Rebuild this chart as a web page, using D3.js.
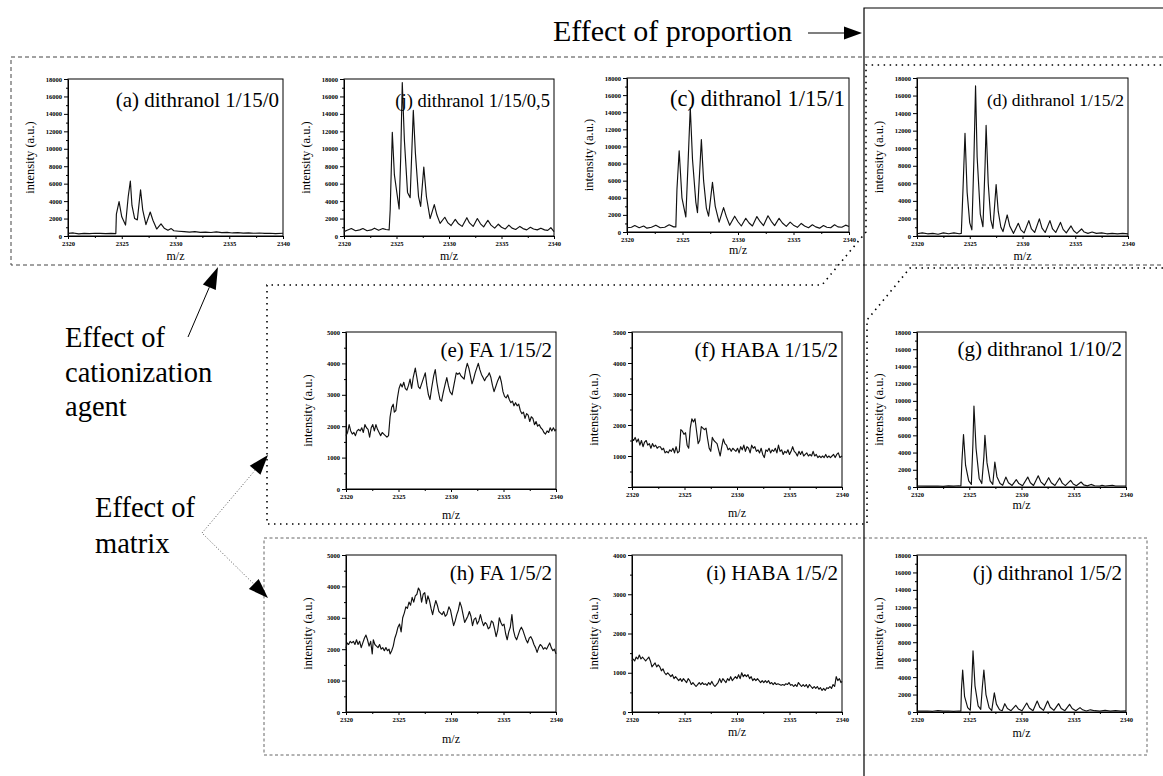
<!DOCTYPE html>
<html>
<head>
<meta charset="utf-8">
<script src="https://cdn.jsdelivr.net/npm/d3@7"></script>
<style>
  body { margin: 0; background: #fff; }
  svg text { font-family: "Liberation Serif", "Times New Roman", serif; fill: #000; }
  .tk text { font-size: 6.5px; font-weight: bold; }
  .tk path, .tk line, .mn line { stroke: #000; }
</style>
</head>
<body>
<svg id="canvas" width="1163" height="776"></svg>
<script>
(function() {

// tick labels
const mzTicks = [2320, 2325, 2330, 2335, 2340];
const mzMinor = [2322.5, 2327.5, 2332.5, 2337.5];
const ticks18k = [0, 2000, 4000, 6000, 8000, 10000, 12000, 14000, 16000, 18000];
const ticks5k = [0, 1000, 2000, 3000, 4000, 5000];
const ticks4k = [0, 1000, 2000, 3000, 4000];

const panelTitles = ["(a) dithranol 1/15/0", "(j) dithranol 1/15/0,5", "(c) dithranol 1/15/1",
  "(d) dithranol 1/15/2", "(e) FA 1/15/2", "(f) HABA 1/15/2", "(g) dithranol 1/10/2",
  "(h) FA 1/5/2", "(i) HABA 1/5/2", "(j) dithranol 1/5/2"];

// spectra: [m/z, intensity]
const specA = [[2320,300],[2320.5,350],[2321,250],[2321.5,300],[2322,280],[2322.5,320],[2323,300],[2323.5,280],[2324,300],[2324.45,280],
  [2324.5,2500],[2324.75,3950],[2325.0,2200],[2325.35,1250],[2325.6,4500],[2325.8,6300],[2325.95,3500],[2326.2,2000],[2326.45,1850],
  [2326.75,5300],[2326.95,3000],[2327.25,1300],[2327.65,2750],[2327.9,1800],[2328.25,800],[2328.65,1400],[2328.95,900],[2329.3,650],
  [2329.6,850],[2329.85,600],[2330.3,550],[2330.8,500],[2331.3,450],[2331.8,500],[2332.3,420],[2332.8,450],[2333.3,400],[2333.8,480],
  [2334.3,380],[2334.8,420],[2335.3,350],[2335.8,380],[2336.3,330],[2336.8,360],[2337.3,320],[2337.8,340],[2338.3,300],[2338.8,320],
  [2339.3,280],[2340,320]];

const specJ05 = [[2320,500],[2320.3,650],[2320.7,850],[2321.1,600],[2321.5,700],[2321.8,850],[2322.2,600],[2322.6,700],[2322.9,900],
  [2323.3,650],[2323.7,850],[2324.0,750],[2324.3,700],[2324.4,3000],[2324.6,11900],[2324.8,7000],[2325.25,3100],[2325.4,9000],
  [2325.55,17600],[2325.75,11000],[2326.05,5000],[2326.3,4400],[2326.6,14400],[2326.8,9500],[2327.1,4500],[2327.3,3400],[2327.6,7900],
  [2327.85,4500],[2328.2,2000],[2328.6,3600],[2328.85,2400],[2329.15,1450],[2329.6,2150],[2329.9,1500],[2330.2,1200],[2330.6,1900],
  [2330.9,1400],[2331.25,1100],[2331.7,2100],[2331.95,1500],[2332.3,1100],[2332.7,2000],[2333.0,1400],[2333.3,1050],[2333.7,1800],
  [2334.0,1250],[2334.35,900],[2334.7,1350],[2335.0,1000],[2335.35,800],[2335.7,1250],[2336.0,900],[2336.35,750],[2336.75,1100],
  [2337.05,850],[2337.4,700],[2337.75,1000],[2338.05,800],[2338.4,700],[2338.75,900],[2339.1,700],[2339.4,650],[2339.7,950],[2340,500]];

const specC = [[2320,500],[2320.4,550],[2320.7,750],[2321.1,500],[2321.5,700],[2321.8,450],[2322.2,550],[2322.6,800],[2323.0,500],
  [2323.4,550],[2323.8,850],[2324.2,600],[2324.4,600],[2324.5,5000],[2324.7,9500],[2324.95,4000],[2325.3,1750],[2325.5,8000],
  [2325.7,14550],[2325.9,8500],[2326.2,3500],[2326.35,2250],[2326.7,10800],[2326.9,6000],[2327.15,2800],[2327.35,1850],[2327.7,5800],
  [2327.95,3000],[2328.3,1150],[2328.7,2850],[2328.95,1800],[2329.25,780],[2329.7,1850],[2330.0,1200],[2330.3,700],[2330.7,1600],
  [2331.0,1050],[2331.3,700],[2331.7,1800],[2332.0,1200],[2332.3,750],[2332.7,1900],[2333.0,1250],[2333.3,750],[2333.7,1600],
  [2334.0,1050],[2334.35,650],[2334.7,1150],[2335.0,800],[2335.35,550],[2335.7,1000],[2336.0,700],[2336.35,500],[2336.7,850],
  [2337.0,600],[2337.35,450],[2337.7,750],[2338.0,550],[2338.35,500],[2338.7,850],[2339.0,600],[2339.35,550],[2339.7,800],[2340,650]];

const specD = [[2320,250],[2320.5,350],[2321,250],[2321.5,300],[2322,200],[2322.5,350],[2323,250],[2323.5,350],[2324,250],[2324.2,300],
  [2324.35,5000],[2324.55,11700],[2324.75,5000],[2325.0,1500],[2325.2,700],[2325.4,9000],[2325.55,17100],[2325.7,9000],[2326.0,2500],
  [2326.25,1050],[2326.45,8000],[2326.55,12600],[2326.75,6000],[2327.0,1800],[2327.2,850],[2327.5,5850],[2327.7,2800],[2327.95,1000],
  [2328.15,500],[2328.55,2400],[2328.8,1100],[2329.15,300],[2329.6,1450],[2329.85,700],[2330.15,350],[2330.6,1750],[2330.85,800],
  [2331.15,400],[2331.6,1950],[2331.85,900],[2332.15,400],[2332.6,1750],[2332.85,800],[2333.15,400],[2333.6,1550],[2333.85,750],
  [2334.15,350],[2334.6,1150],[2334.85,600],[2335.15,300],[2335.6,800],[2335.85,450],[2336.2,300],[2336.6,450],[2337.0,300],
  [2337.5,350],[2338.0,250],[2338.5,300],[2339.0,250],[2339.5,300],[2340,250]];

const specE = [[2320,1700],[2320.15,1800],[2320.3,2050],[2320.45,1850],[2320.6,1750],[2320.75,1800],[2320.9,1700],[2321.05,1850],
  [2321.2,1900],[2321.35,1850],[2321.5,1950],[2321.65,1800],[2321.8,2050],[2321.95,1950],[2322.1,1900],[2322.25,1650],[2322.4,1950],
  [2322.55,2050],[2322.7,1850],[2322.85,2050],[2323.0,1900],[2323.15,1800],[2323.3,1700],[2323.45,1800],[2323.6,1750],[2323.75,1700],
  [2323.9,1650],[2324.05,1700],[2324.2,2300],[2324.35,2600],[2324.5,2700],[2324.6,2450],[2324.75,2500],[2324.9,2900],[2325.05,3200],
  [2325.2,3350],[2325.35,3250],[2325.5,3400],[2325.65,3200],[2325.8,3150],[2325.95,3300],[2326.1,3500],[2326.25,3200],[2326.4,3550],
  [2326.6,3850],[2326.75,3550],[2326.9,3250],[2327.05,3200],[2327.2,3350],[2327.35,3500],[2327.55,3700],[2327.7,3300],[2327.85,3000],
  [2328.0,2850],[2328.15,3200],[2328.35,3600],[2328.5,3800],[2328.65,3400],[2328.8,3100],[2328.95,2850],[2329.1,2800],[2329.25,3050],
  [2329.45,3350],[2329.6,3550],[2329.75,3300],[2329.9,3100],[2330.1,3000],[2330.3,3350],[2330.5,3700],[2330.65,3650],[2330.8,3700],
  [2330.95,3600],[2331.1,3550],[2331.25,3500],[2331.4,3800],[2331.55,4000],[2331.7,3850],[2331.85,3600],[2332.0,3350],[2332.15,3500],
  [2332.3,3700],[2332.45,3850],[2332.6,4000],[2332.75,3800],[2332.9,3650],[2333.05,3550],[2333.2,3450],[2333.35,3550],[2333.5,3600],
  [2333.65,3700],[2333.8,3550],[2333.95,3300],[2334.1,3100],[2334.25,3250],[2334.45,3450],[2334.65,3600],[2334.8,3400],[2334.95,3100],
  [2335.1,2950],[2335.25,2900],[2335.4,3000],[2335.55,2850],[2335.7,2750],[2335.85,2800],[2336.0,2650],[2336.15,2750],[2336.3,2650],
  [2336.45,2700],[2336.6,2500],[2336.75,2400],[2336.9,2450],[2337.05,2250],[2337.2,2400],[2337.35,2350],[2337.5,2150],[2337.65,2300],
  [2337.8,2250],[2337.95,2050],[2338.1,2150],[2338.25,2000],[2338.4,2050],[2338.55,1950],[2338.7,1900],[2338.85,1800],[2339.0,1750],
  [2339.15,1850],[2339.3,1800],[2339.45,1950],[2339.6,1850],[2339.75,1950],[2339.9,1850],[2340,1900]];

const specF = [[2320,1550],[2320.15,1500],[2320.3,1600],[2320.45,1450],[2320.6,1550],[2320.75,1350],[2320.9,1500],[2321.05,1300],
  [2321.2,1450],[2321.35,1500],[2321.5,1350],[2321.65,1400],[2321.8,1250],[2321.95,1400],[2322.1,1300],[2322.25,1350],[2322.4,1250],
  [2322.55,1300],[2322.7,1300],[2322.85,1200],[2323.0,1250],[2323.15,1100],[2323.3,1150],[2323.45,1100],[2323.6,1200],[2323.75,1150],
  [2323.9,1250],[2324.05,1100],[2324.2,1300],[2324.35,1100],[2324.5,1150],[2324.65,1850],[2324.8,1800],[2324.95,1700],[2325.1,1750],
  [2325.25,1350],[2325.4,1250],[2325.55,1900],[2325.7,2200],[2325.85,2100],[2326.0,2200],[2326.15,1800],[2326.3,1400],[2326.45,1500],
  [2326.6,1950],[2326.75,1900],[2326.9,1850],[2327.05,1900],[2327.2,1550],[2327.35,1250],[2327.5,1150],[2327.65,1600],[2327.8,1500],
  [2327.95,1450],[2328.1,1400],[2328.25,1200],[2328.4,1000],[2328.55,1300],[2328.7,1550],[2328.85,1400],[2329.0,1350],[2329.15,1200],
  [2329.3,1250],[2329.45,1150],[2329.6,1250],[2329.75,1200],[2329.9,1150],[2330.05,1250],[2330.2,1100],[2330.35,1300],[2330.5,1200],
  [2330.65,1350],[2330.8,1150],[2330.95,1300],[2331.1,1250],[2331.25,1100],[2331.4,1350],[2331.55,1250],[2331.7,1300],[2331.85,1150],
  [2332.0,1200],[2332.15,1100],[2332.3,1250],[2332.45,1050],[2332.6,950],[2332.75,1200],[2332.9,1150],[2333.05,1250],[2333.2,1100],
  [2333.35,1200],[2333.5,1150],[2333.65,1250],[2333.8,1100],[2333.95,1350],[2334.1,1150],[2334.25,1200],[2334.4,1050],[2334.55,1150],
  [2334.7,1100],[2334.85,1200],[2335.0,1050],[2335.15,1150],[2335.3,1300],[2335.45,1150],[2335.6,1100],[2335.75,1000],[2335.9,1150],
  [2336.05,1050],[2336.2,1150],[2336.35,1000],[2336.5,1050],[2336.65,1100],[2336.8,1000],[2336.95,1050],[2337.1,1000],[2337.25,1150],
  [2337.4,1000],[2337.55,1050],[2337.7,950],[2337.85,1000],[2338.0,950],[2338.15,1000],[2338.3,950],[2338.45,1050],[2338.6,950],
  [2338.75,1000],[2338.9,950],[2339.05,1000],[2339.2,1050],[2339.35,950],[2339.5,1050],[2339.65,1100],[2339.8,950],[2340,1000]];

const specG = [[2320,120],[2321,100],[2322,120],[2322.5,80],[2323,130],[2323.5,100],[2324,150],[2324.2,120],[2324.3,3000],
  [2324.45,6100],[2324.65,2500],[2324.95,700],[2325.2,300],[2325.35,5000],[2325.45,9400],[2325.65,4500],[2325.95,1000],[2326.2,400],
  [2326.4,3500],[2326.5,6000],[2326.7,2800],[2327.0,700],[2327.25,300],[2327.45,2900],[2327.65,1200],[2327.95,400],[2328.2,200],
  [2328.5,1150],[2328.75,500],[2329.1,180],[2329.5,850],[2329.75,400],[2330.1,150],[2330.6,1150],[2330.85,500],[2331.15,180],
  [2331.6,1300],[2331.85,600],[2332.2,200],[2332.6,1080],[2332.85,500],[2333.2,180],[2333.65,1050],[2333.9,450],[2334.2,160],
  [2334.7,770],[2334.95,350],[2335.25,150],[2335.7,580],[2335.95,250],[2336.3,130],[2336.65,300],[2337.0,150],[2337.5,120],
  [2337.7,200],[2338.0,120],[2338.7,200],[2339,120],[2340,120]];

const specH = [[2320,2030],[2320.1,2200],[2320.25,2150],[2320.4,2250],[2320.55,2200],[2320.7,2250],[2320.85,2150],[2321.0,2300],
  [2321.15,2150],[2321.3,2250],[2321.45,2050],[2321.6,2200],[2321.75,2350],[2321.9,2450],[2322.05,2300],[2322.2,2100],[2322.35,2250],
  [2322.5,1850],[2322.6,2300],[2322.75,2150],[2322.9,2100],[2323.05,2050],[2323.2,2150],[2323.35,2000],[2323.5,2050],[2323.65,1950],
  [2323.8,2050],[2323.95,1950],[2324.1,2000],[2324.2,1850],[2324.35,1950],[2324.5,2100],[2324.65,2350],[2324.8,2500],[2324.95,2700],
  [2325.1,2800],[2325.25,2550],[2325.4,3000],[2325.55,3150],[2325.7,3350],[2325.85,3300],[2326.0,3500],[2326.15,3400],[2326.3,3650],
  [2326.45,3500],[2326.6,3700],[2326.75,3750],[2326.9,3950],[2327.05,3850],[2327.2,3500],[2327.35,3750],[2327.5,3800],[2327.65,3450],
  [2327.8,3700],[2327.95,3550],[2328.1,3300],[2328.25,3100],[2328.4,3350],[2328.55,3550],[2328.7,3400],[2328.85,3200],[2329.0,3150],
  [2329.15,3100],[2329.3,3200],[2329.45,3050],[2329.6,3100],[2329.8,3350],[2329.95,3250],[2330.1,3000],[2330.25,2750],[2330.4,2900],
  [2330.55,3100],[2330.7,3250],[2330.85,3500],[2331.0,3350],[2331.15,3100],[2331.3,2850],[2331.45,2950],[2331.6,3050],[2331.75,3200],
  [2331.9,3050],[2332.05,2750],[2332.2,2950],[2332.35,3000],[2332.5,2800],[2332.65,2900],[2332.8,3100],[2332.95,2900],[2333.1,2750],
  [2333.25,2850],[2333.4,2800],[2333.55,2650],[2333.7,2700],[2333.85,2900],[2334.0,2850],[2334.15,2650],[2334.3,2400],[2334.45,2600],
  [2334.6,3000],[2334.75,2850],[2334.9,2750],[2335.05,2800],[2335.2,2500],[2335.35,2300],[2335.5,2550],[2335.65,2700],[2335.8,3100],
  [2335.95,2600],[2336.1,2400],[2336.25,2300],[2336.4,2450],[2336.55,2600],[2336.7,2700],[2336.85,2600],[2337.0,2450],[2337.15,2300],
  [2337.3,2200],[2337.45,2350],[2337.6,2400],[2337.75,2300],[2337.9,2150],[2338.05,2050],[2338.2,1900],[2338.35,2050],[2338.5,2150],
  [2338.65,2100],[2338.8,2000],[2338.95,2050],[2339.1,2000],[2339.25,2100],[2339.4,2200],[2339.55,2050],[2339.7,1950],[2339.85,2000],
  [2340,1850]];

const specI = [[2320,1300],[2320.1,1350],[2320.25,1300],[2320.4,1400],[2320.55,1350],[2320.7,1450],[2320.85,1350],[2321.0,1400],
  [2321.15,1350],[2321.3,1300],[2321.45,1350],[2321.6,1400],[2321.75,1300],[2321.9,1150],[2322.05,1200],[2322.2,1250],[2322.35,1150],
  [2322.5,1200],[2322.65,1150],[2322.8,1050],[2322.95,1100],[2323.1,1000],[2323.25,950],[2323.4,1000],[2323.55,950],[2323.7,900],
  [2323.85,950],[2324.0,850],[2324.15,900],[2324.3,850],[2324.45,800],[2324.6,850],[2324.75,780],[2324.9,850],[2325.05,800],
  [2325.2,750],[2325.35,850],[2325.5,800],[2325.65,700],[2325.8,750],[2325.95,700],[2326.1,650],[2326.25,700],[2326.4,750],
  [2326.55,700],[2326.7,750],[2326.85,700],[2327.0,720],[2327.15,680],[2327.3,750],[2327.45,700],[2327.6,780],[2327.75,700],
  [2327.9,650],[2328.05,700],[2328.2,750],[2328.35,850],[2328.5,750],[2328.65,850],[2328.8,800],[2328.95,750],[2329.1,850],
  [2329.25,800],[2329.4,900],[2329.55,800],[2329.7,850],[2329.85,900],[2330.0,850],[2330.15,950],[2330.3,850],[2330.45,1000],
  [2330.6,900],[2330.75,950],[2330.9,900],[2331.05,950],[2331.2,850],[2331.35,900],[2331.5,800],[2331.65,850],[2331.8,800],
  [2331.95,850],[2332.1,800],[2332.25,750],[2332.4,800],[2332.55,750],[2332.7,800],[2332.85,750],[2333.0,800],[2333.15,720],
  [2333.3,750],[2333.45,700],[2333.6,750],[2333.75,700],[2333.9,720],[2334.05,700],[2334.2,680],[2334.35,700],[2334.5,680],
  [2334.65,720],[2334.8,700],[2334.95,750],[2335.1,680],[2335.25,700],[2335.4,650],[2335.55,700],[2335.7,650],[2335.85,750],
  [2336.0,700],[2336.15,650],[2336.3,700],[2336.45,650],[2336.6,700],[2336.75,620],[2336.9,700],[2337.05,650],[2337.2,600],
  [2337.35,650],[2337.5,600],[2337.65,650],[2337.8,580],[2337.95,620],[2338.1,550],[2338.25,600],[2338.4,550],[2338.55,620],
  [2338.7,600],[2338.85,650],[2339.0,600],[2339.15,700],[2339.3,650],[2339.45,900],[2339.6,800],[2339.75,850],[2339.9,750],[2340,780]];

const specJ52 = [[2320,100],[2321,120],[2321.5,80],[2322,150],[2322.5,100],[2323,120],[2323.5,80],[2324,120],[2324.2,100],
  [2324.25,2500],[2324.37,4800],[2324.55,1800],[2324.85,500],[2325.1,200],[2325.25,3500],[2325.36,7000],[2325.55,3000],[2325.85,700],
  [2326.1,300],[2326.25,2800],[2326.4,4800],[2326.6,2000],[2326.9,500],[2327.15,150],[2327.4,2200],[2327.6,900],[2327.9,250],
  [2328.15,150],[2328.4,950],[2328.65,400],[2329.0,150],[2329.45,770],[2329.7,350],[2330.05,150],[2330.5,1030],[2330.75,450],
  [2331.1,150],[2331.5,1260],[2331.75,550],[2332.1,180],[2332.5,1260],[2332.75,550],[2333.1,180],[2333.55,960],[2333.8,400],
  [2334.15,150],[2334.6,880],[2334.85,400],[2335.2,150],[2335.6,500],[2335.85,250],[2336.2,120],[2336.6,250],[2337,150],
  [2337.5,100],[2338,180],[2338.5,100],[2339,150],[2339.5,100],[2340,130]];

const svg = d3.select("#canvas");
svg.append("rect").attr("width", 1163).attr("height", 776).attr("fill", "#fff");

// panel layout
var panels = [
  {data: specA,   left: 68,  top: 79,  w: 215, h: 157, yt: ticks18k, fs: 21,   mzDy: 24},
  {data: specJ05, left: 344, top: 79,  w: 210, h: 157, yt: ticks18k, fs: 18.5, mzDy: 24},
  {data: specC,   left: 627, top: 78,  w: 222, h: 154, yt: ticks18k, fs: 22.5, mzDy: 22},
  {data: specD,   left: 917, top: 78,  w: 211, h: 158, yt: ticks18k, fs: 17.5, mzDy: 24},
  {data: specE,   left: 346, top: 332, w: 210, h: 157, yt: ticks5k,  fs: 21,   mzDy: 30, tDy: 25},
  {data: specF,   left: 632, top: 332, w: 210, h: 155, yt: ticks5k,  fs: 21,   mzDy: 30, tDy: 25, noZero: true},
  {data: specG,   left: 917, top: 332, w: 209, h: 155, yt: ticks18k, fs: 21,   mzDy: 22, tDy: 24},
  {data: specH,   left: 346, top: 555, w: 210, h: 157, yt: ticks5k,  fs: 21,   mzDy: 31, tDy: 25},
  {data: specI,   left: 632, top: 555, w: 210, h: 157, yt: ticks4k,  fs: 21,   mzDy: 24, tDy: 25},
  {data: specJ52, left: 917, top: 555, w: 209, h: 157, yt: ticks18k, fs: 21,   mzDy: 25, tDy: 25}
];

panels.forEach(function(p, i) {
  var x = d3.scaleLinear().domain([2320, 2340]).range([p.left, p.left + p.w]);
  var ymax = p.yt[p.yt.length - 1], step = p.yt[1] - p.yt[0];
  var y = d3.scaleLinear().domain([0, ymax]).range([p.top + p.h, p.top]);
  var g = svg.append("g");
  var fmt = function(d) { return (p.noZero && d === 0) ? "" : d3.format("d")(d); };

  g.append("g").attr("class", "mn").attr("transform", "translate(0," + (p.top + p.h) + ")")
    .call(d3.axisBottom(x).tickValues(mzMinor).tickSize(2).tickSizeOuter(0).tickFormat(""));
  g.append("g").attr("class", "tk").attr("transform", "translate(0," + (p.top + p.h) + ")")
    .call(d3.axisBottom(x).tickValues(mzTicks).tickSize(3).tickSizeOuter(0).tickPadding(2).tickFormat(d3.format("d")));
  g.append("g").attr("class", "mn").attr("transform", "translate(" + p.left + ",0)")
    .call(d3.axisLeft(y).tickValues(d3.range(step / 2, ymax, step)).tickSize(2).tickSizeOuter(0).tickFormat(""));
  g.append("g").attr("class", "tk").attr("transform", "translate(" + p.left + ",0)")
    .call(d3.axisLeft(y).tickValues(p.yt).tickSize(4).tickSizeOuter(0).tickPadding(2).tickFormat(fmt));
  g.selectAll(".mn .domain").remove();

  g.append("rect").attr("x", p.left).attr("y", p.top).attr("width", p.w).attr("height", p.h)
    .attr("fill", "none").attr("stroke", "#000").attr("stroke-width", 1);

  g.append("path").datum(p.data)
    .attr("d", d3.line().x(d => x(d[0])).y(d => y(d[1])))
    .attr("fill", "none").attr("stroke", "#111").attr("stroke-width", 1.15).attr("stroke-linejoin", "round");

  g.append("text").attr("x", p.left + p.w - 4).attr("y", p.top + (p.tDy || 28))
    .attr("text-anchor", "end").style("font-size", p.fs + "px").text(panelTitles[i]);
  g.append("text").attr("x", p.left + p.w / 2).attr("y", p.top + p.h + p.mzDy)
    .attr("text-anchor", "middle").style("font-size", "12px").text("m/z");
  g.append("text").attr("transform", "translate(" + (p.left - 38) + "," + (p.top + p.h / 2) + ") rotate(-90)")
    .attr("text-anchor", "middle").attr("dy", "0.35em").style("font-size", "12.5px").text("intensity (a.u.)");
});

// frames and annotations
function arrowHead(x0, y0, x1, y1, len, half) {
  var dx = x1 - x0, dy = y1 - y0, n = Math.sqrt(dx * dx + dy * dy);
  dx /= n; dy /= n;
  var bx = x1 - dx * len, by = y1 - dy * len;
  svg.append("path").attr("d", "M" + x1 + "," + y1 + "L" + (bx - dy * half) + "," + (by + dx * half) +
    "L" + (bx + dy * half) + "," + (by - dx * half) + "Z").attr("fill", "#000");
  return [bx, by];
}

svg.append("path").attr("d", "M1163,57H11V265H1163")
  .attr("fill", "none").attr("stroke", "#444").attr("stroke-dasharray", "4,3");
svg.append("path").attr("d", "M1163,268H910L867,320V524H267V285H822L866,232V65H1163")
  .attr("fill", "none").attr("stroke", "#000").attr("stroke-width", 1.6).attr("stroke-dasharray", "1.5,4.5");
svg.append("rect").attr("x", 264).attr("y", 538).attr("width", 883).attr("height", 217)
  .attr("fill", "none").attr("stroke", "#666").attr("stroke-dasharray", "3,2.5");
svg.append("path").attr("d", "M864,776V8H1163")
  .attr("fill", "none").attr("stroke", "#000").attr("stroke-width", 1.2);

svg.append("text").attr("x", 553).attr("y", 41).style("font-size", "30px").text("Effect of proportion");
svg.append("line").attr("x1", 808).attr("y1", 33).attr("x2", 848).attr("y2", 33).attr("stroke", "#000").attr("stroke-width", 1.2);
arrowHead(808, 33, 862, 33, 18, 6.5);

var lt = svg.append("text").style("font-size", "28.5px");
lt.append("tspan").attr("x", 65).attr("y", 347).text("Effect of");
lt.append("tspan").attr("x", 65).attr("y", 382).text("cationization");
lt.append("tspan").attr("x", 65).attr("y", 416).text("agent");
var b = arrowHead(188, 337, 218, 267, 22, 7);
svg.append("line").attr("x1", 188).attr("y1", 337).attr("x2", b[0]).attr("y2", b[1]).attr("stroke", "#000").attr("stroke-width", 1);

var mt = svg.append("text").style("font-size", "28.5px");
mt.append("tspan").attr("x", 95).attr("y", 517).text("Effect of");
mt.append("tspan").attr("x", 95).attr("y", 553).text("matrix");
var b1 = arrowHead(202, 533, 268, 455, 20, 7);
var b2 = arrowHead(202, 533, 268, 598, 20, 7);
svg.append("path").attr("d", "M" + b1[0] + "," + b1[1] + "L202,533L" + b2[0] + "," + b2[1])
  .attr("fill", "none").attr("stroke", "#555").attr("stroke-width", 1).attr("stroke-dasharray", "1,2");

})();
</script>
</body>
</html>
